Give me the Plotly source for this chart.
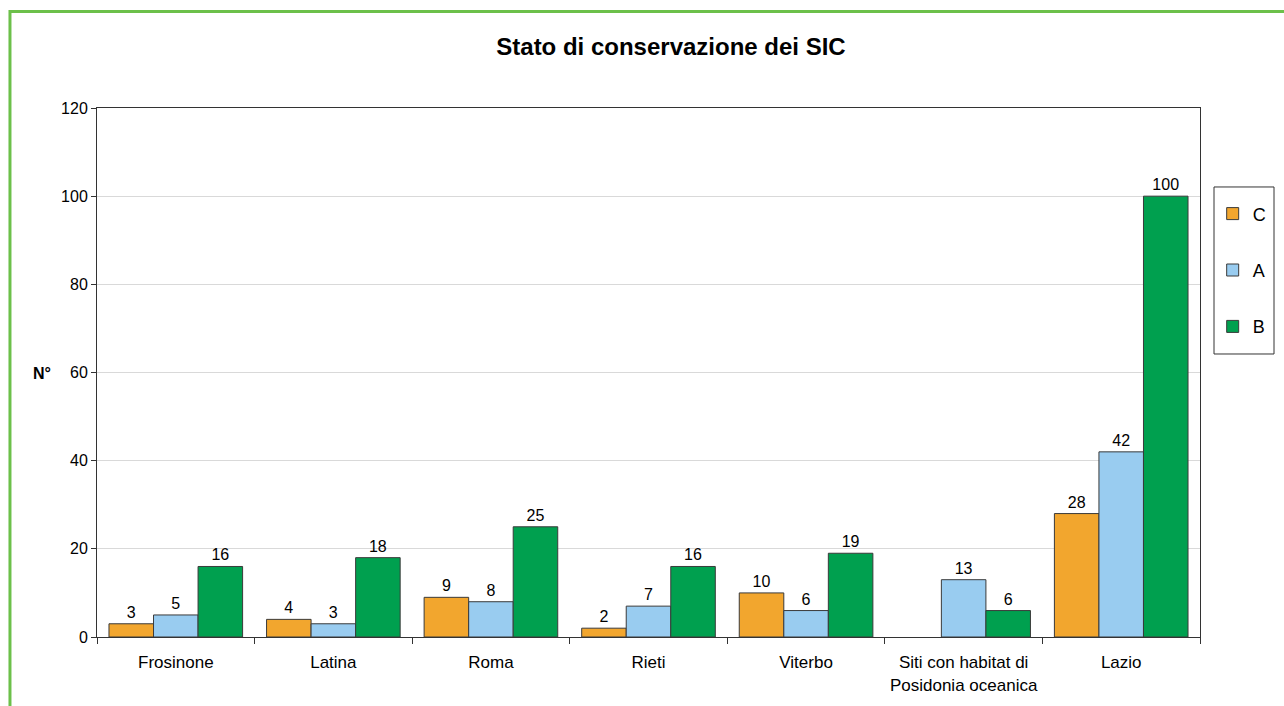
import plotly.graph_objects as go

# Province / site groups on the x axis
categories = [
    "Frosinone",
    "Latina",
    "Roma",
    "Rieti",
    "Viterbo",
    "Siti con habitat di<br>Posidonia oceanica",
    "Lazio",
]

# Number of SIC per conservation status
status_c = [3, 4, 9, 2, 10, None, 28]
status_a = [5, 3, 8, 7, 6, 13, 42]
status_b = [16, 18, 25, 16, 19, 6, 100]

y_ticks = [0, 20, 40, 60, 80, 100, 120]

series = [
    ("C", status_c, "#F2A62E"),
    ("A", status_a, "#99CCF0"),
    ("B", status_b, "#00A04F"),
]

FONT = "Liberation Sans, Arial, sans-serif"

fig = go.Figure()
for name, values, color in series:
    fig.add_trace(go.Bar(
        name=name,
        x=categories,
        y=values,
        legendgroup=name,
        marker=dict(color=color, line=dict(color="#3a3a3a", width=1)),
        text=[("" if v is None else str(v)) for v in values],
        textposition="outside",
        textfont=dict(size=16, color="#000000", family=FONT),
        cliponaxis=False,
        hoverinfo="x+y+name",
    ))

fig.update_layout(
    width=1284,
    height=706,
    margin=dict(l=97, r=84, t=108, b=69, autoexpand=False),
    paper_bgcolor="#FFFFFF",
    plot_bgcolor="#FFFFFF",
    barmode="group",
    bargap=0.152,
    bargroupgap=0,
    font=dict(family=FONT, size=16, color="#000000"),
    title=dict(
        text="<b>Stato di conservazione dei SIC</b>",
        x=(671 - 97) / 1103,
        xref="paper",
        xanchor="center",
        y=1 - 47 / 706,
        yanchor="middle",
        font=dict(size=24, family=FONT, color="#000000"),
    ),
    showlegend=True,
    legend=dict(
        x=1.0115,
        xanchor="left",
        y=0.693,
        yanchor="middle",
        bgcolor="rgba(0,0,0,0)",
        borderwidth=0,
        tracegroupgap=30,
        traceorder="grouped",
        itemwidth=30,
        font=dict(size=18, family=FONT, color="#000000"),
    ),
    xaxis=dict(
        showline=True,
        linecolor="#333333",
        linewidth=1,
        mirror=True,
        ticks="outside",
        tickson="boundaries",
        ticklen=6,
        tickcolor="#333333",
        ticklabelstandoff=10,
        showgrid=False,
        tickfont=dict(size=17, family=FONT, color="#000000"),
    ),
    yaxis=dict(
        range=[0, 120],
        tickvals=y_ticks,
        showline=True,
        linecolor="#333333",
        linewidth=1,
        mirror=True,
        ticks="outside",
        ticklen=5,
        tickcolor="#333333",
        showgrid=True,
        gridcolor="#D9D9D9",
        gridwidth=1,
        zeroline=False,
        tickfont=dict(size=16, family=FONT, color="#000000"),
    ),
    shapes=[
        # outer chart frame
        dict(type="rect", xref="paper", yref="paper",
             x0=-0.0789, x1=1.0907, y0=-0.1758, y1=1.1824,
             line=dict(color="#6CC04A", width=3), fillcolor="rgba(0,0,0,0)",
             layer="above"),
        # legend box
        dict(type="rect", xref="paper", yref="paper",
             x0=1.0127, x1=1.0671, y0=0.535, y1=0.8507,
             line=dict(color="#333333", width=1), fillcolor="rgba(0,0,0,0)"),
    ],
    annotations=[
        dict(text="<b>N°</b>", xref="paper", yref="paper",
             x=(42 - 97) / 1103, y=(637 - 373) / 529,
             xanchor="center", yanchor="middle", showarrow=False,
             font=dict(size=16, family=FONT, color="#000000")),
    ],
)

fig.write_html("out.html")
